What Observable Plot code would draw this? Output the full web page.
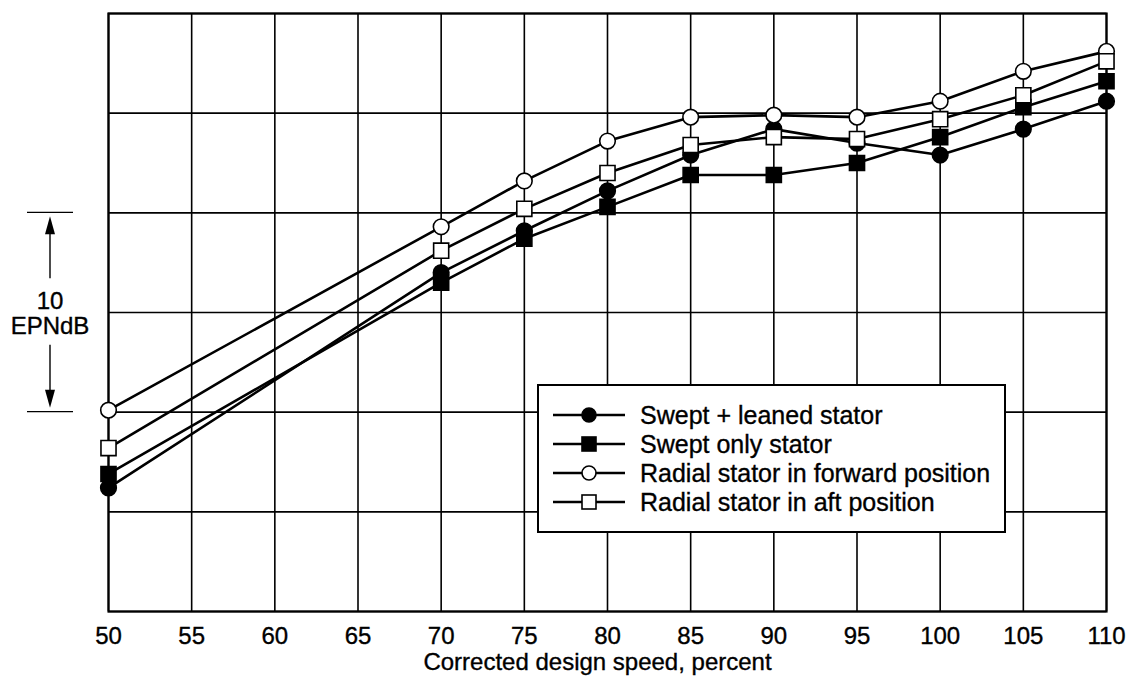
<!DOCTYPE html>
<html><head><meta charset="utf-8">
<script src="https://cdn.jsdelivr.net/npm/d3@7"></script>
<script src="https://cdn.jsdelivr.net/npm/@observablehq/plot@0.6"></script>
<style>
body{margin:0;background:#fff;}
#chart{width:1137px;height:678px;}
#chart svg{font-family:"Liberation Sans",Arial,Helvetica,sans-serif;}
</style>
</head><body>
<div id="chart"></div>
<script>
// ---- data ----
const speeds = [50, 70, 75, 80, 85, 90, 95, 100, 105, 110];
const sweptLeaned   = [6.2, 17.0, 19.1, 21.1, 22.9, 24.2, 23.5, 22.9, 24.2, 25.6];
const sweptOnly     = [6.9, 16.5, 18.7, 20.3, 21.9, 21.9, 22.5, 23.8, 25.3, 26.6];
const radialForward = [10.1, 19.3, 21.6, 23.6, 24.8, 24.9, 24.8, 25.6, 27.1, 28.1];
const radialAft     = [8.2, 18.1, 20.2, 22.0, 23.4, 23.8, 23.7, 24.7, 25.9, 27.6];
const seriesNames = ["Swept + leaned stator", "Swept only stator", "Radial stator in forward position", "Radial stator in aft position"];
const seriesSymbols = ["circle", "square", "circle", "square"];
const seriesFills = ["black", "black", "white", "white"];
const xTicks = [50, 55, 60, 65, 70, 75, 80, 85, 90, 95, 100, 105, 110];
const yGrid = [0, 5, 10, 15, 20, 25, 30];
const xLabel = "Corrected design speed, percent";
const scaleBarValue = "10";
const scaleBarUnit = "EPNdB";

const allSeries = [sweptLeaned, sweptOnly, radialForward, radialAft];
const rows = [];
allSeries.forEach((vals, si) => vals.forEach((v, i) => rows.push({
  speed: speeds[i], level: v, series: seriesNames[si],
  symbol: seriesSymbols[si], fill: seriesFills[si]
})));
const circleRows = rows.filter(d => d.symbol === "circle");
const squareRows = rows.filter(d => d.symbol === "square");

const plot = Plot.plot({
  width: 1137, height: 678,
  marginLeft: 108, marginRight: 31, marginTop: 13, marginBottom: 67,
  style: {fontFamily: '"Liberation Sans", Arial, Helvetica, sans-serif', color: "black", background: "white"},
  x: {domain: [50, 110]},
  y: {domain: [0, 30], axis: null},
  marks: [
    Plot.ruleX(xTicks, {stroke: "black", strokeWidth: 1.6, strokeOpacity: 1}),
    Plot.ruleY(yGrid, {stroke: "black", strokeWidth: 1.6, strokeOpacity: 1}),
    Plot.frame({stroke: "black", strokeWidth: 2.2}),
    Plot.axisX({ticks: xTicks, tickSize: 0, tickPadding: 15, fontSize: 24,
      label: xLabel, labelAnchor: "center", labelArrow: "none", labelOffset: 58}),
    Plot.line(rows, {x: "speed", y: "level", z: "series", stroke: "black", strokeWidth: 2.6}),
    Plot.dot(circleRows, {x: "speed", y: "level", symbol: "circle", fill: "fill", stroke: "black", strokeWidth: 1.6, r: 7.8}),
    Plot.dot(squareRows, {x: "speed", y: "level", symbol: "square", fill: "fill", stroke: "black", strokeWidth: 1.6, r: 8.5})
  ]
});
document.getElementById("chart").appendChild(plot);

const svg = d3.select(plot);
// all plot texts at the reference size, slightly heavier like the scanned print
svg.selectAll("text").attr("font-size", 24).attr("stroke", "black").attr("stroke-width", 0.35);
svg.selectAll("text").filter(function(){ return this.textContent === xLabel; }).attr("dx", -10);

const sy = plot.scale("y");

// ---- scale bar (10 EPNdB) ----
const yTop = sy.apply(20), yBot = sy.apply(10);
const g = svg.append("g").attr("stroke", "black").attr("fill", "black");
const bx = 50;
g.append("line").attr("x1", 27).attr("x2", 73).attr("y1", yTop).attr("y2", yTop).attr("stroke-width", 1.2);
g.append("line").attr("x1", 27).attr("x2", 73).attr("y1", yBot).attr("y2", yBot).attr("stroke-width", 1.2);
g.append("line").attr("x1", bx).attr("x2", bx).attr("y1", yTop + 20).attr("y2", yTop + 66).attr("stroke-width", 1.4);
g.append("path").attr("d", `M${bx},${yTop + 4}L${bx - 5},${yTop + 22}L${bx + 5},${yTop + 22}Z`).attr("stroke", "none");
g.append("line").attr("x1", bx).attr("x2", bx).attr("y1", yBot - 67).attr("y2", yBot - 20).attr("stroke-width", 1.4);
g.append("path").attr("d", `M${bx},${yBot - 4}L${bx - 5},${yBot - 22}L${bx + 5},${yBot - 22}Z`).attr("stroke", "none");
g.append("text").attr("x", bx).attr("y", (yTop + yBot) / 2 - 3).attr("text-anchor", "middle")
  .attr("stroke-width", 0.35).attr("font-size", 24).text(scaleBarValue);
g.append("text").attr("x", bx).attr("y", (yTop + yBot) / 2 + 22).attr("text-anchor", "middle")
  .attr("stroke-width", 0.35).attr("font-size", 24).text(scaleBarUnit);

// ---- legend ----
const L = svg.append("g").attr("transform", "translate(538,385)").attr("text-anchor", "start");
L.append("rect").attr("width", 467).attr("height", 147).attr("fill", "white").attr("stroke", "black").attr("stroke-width", 2);
seriesNames.forEach((name, i) => {
  const y = 30 + i * 29;
  L.append("line").attr("x1", 15).attr("x2", 87).attr("y1", y).attr("y2", y).attr("stroke", "black").attr("stroke-width", 2.6);
  if (seriesSymbols[i] === "circle") {
    L.append("circle").attr("cx", 51).attr("cy", y).attr("r", 7).attr("fill", seriesFills[i]).attr("stroke", "black").attr("stroke-width", 1.6);
  } else {
    L.append("rect").attr("x", 44).attr("y", y - 7).attr("width", 14).attr("height", 14).attr("fill", seriesFills[i]).attr("stroke", "black").attr("stroke-width", 1.6);
  }
  L.append("text").attr("x", 102).attr("y", y).attr("dy", "0.36em").attr("font-size", 25)
    .attr("text-anchor", "start").attr("fill", "black").attr("stroke", "black").attr("stroke-width", 0.35).text(name);
});
</script>
</body></html>
